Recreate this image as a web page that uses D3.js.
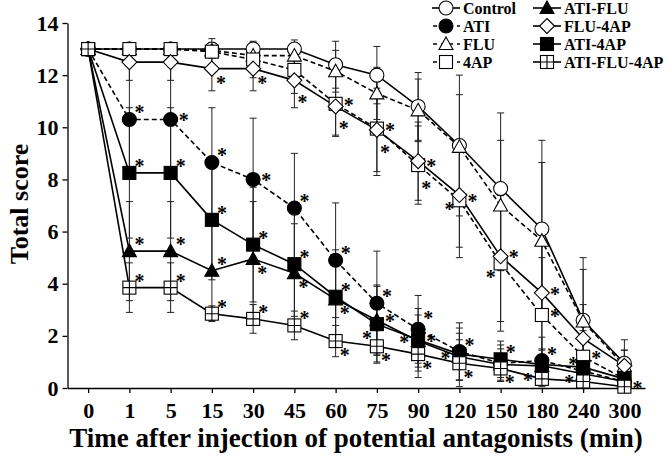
<!DOCTYPE html>
<html><head><meta charset="utf-8">
<script src="https://cdn.jsdelivr.net/npm/d3@7"></script>
<style>body{margin:0;background:#fff}svg{display:block}text{font-family:"Liberation Serif","Times New Roman",serif;font-weight:bold}</style>
</head><body><svg id="c" width="668" height="458"></svg>
<script>
const categories = ["0","1","5","15","30","45","60","75","90","120","150","180","240","300"];
const yTicks = [0,2,4,6,8,10,12,14];
const seriesNames = ["Control","ATI","FLU","4AP","ATI-FLU","FLU-4AP","ATI-4AP","ATI-FLU-4AP"];
const control    = [13,13,13,13,13,13,12.4,12.0,10.8,9.3,7.65,6.1,2.6,0.95];
const controlSD  = [0,0,0,0,0,0,0.9,1.1,1.3,2.7,2.9,3.4,2.4,0.9];
const ati        = [13,10.3,10.3,8.65,8.0,6.9,4.9,3.25,2.25,1.4,0.95,1.05,0.65,0.25];
const atiSD      = [0,2.2,2.2,2.1,2.35,2.1,2.2,2.0,1.3,1.1,0.7,0.9,0.6,0.3];
const flu        = [13,13,13,12.95,12.75,12.75,12.15,11.3,10.65,9.25,7.0,5.65,2.55,0.85];
const fluSD      = [0,0,0,0.3,0.5,0.6,0.8,1.0,1.2,2.0,2.5,3.0,2.0,0.6];
const ap4        = [13,13,13,12.9,12.6,12.2,10.9,9.95,8.55,7.2,4.78,2.8,1.2,0.35];
const ap4SD      = [0,0,0,0.5,0.7,0.9,1.2,1.8,1.5,2.2,2.6,2.2,1.0,0.4];
const atiFlu     = [13,5.25,5.25,4.5,4.95,4.4,3.4,2.6,1.8,1.2,0.9,0.85,0.55,0.25];
const atiFluSD   = [0,1.9,1.9,1.9,2.2,1.9,1.6,1.3,1.0,0.9,0.6,0.6,0.4,0.2];
const flu4ap     = [13,12.5,12.5,12.25,12.25,11.8,10.8,9.9,8.7,7.4,5.05,3.65,1.9,0.85];
const flu4apSD   = [0,0.7,0.7,0.85,0.85,1.05,1.15,1.6,1.5,2.0,2.5,2.4,1.3,0.6];
const ati4ap     = [13,8.25,8.25,6.45,5.5,4.75,3.5,2.45,1.85,1.3,1.1,0.9,0.8,0.35];
const ati4apSD   = [0,2.5,2.5,2.3,2.2,2.0,1.8,1.5,1.2,1.0,0.7,0.6,0.5,0.3];
const atiFlu4ap  = [13,3.85,3.85,2.85,2.65,2.4,1.8,1.6,1.3,0.95,0.75,0.35,0.25,0.05];
const atiFlu4apSD= [0,0.95,0.95,0.3,0.55,0.55,0.6,0.6,0.9,0.9,0.5,0.3,0.2,0.05];
// significance stars: [series, category, placement]
const stars = [
 ["ATI","1","ur"],["ATI","5","r"],["ATI","15","ur"],["ATI","30","r"],["ATI","45","ur"],["ATI","60","ur"],["ATI","75","ur"],["ATI","90","ur2"],["ATI","120","ur"],["ATI","180","ur"],["ATI","240","ul"],
 ["ATI-4AP","1","ur"],["ATI-4AP","5","ur"],["ATI-4AP","15","ur"],["ATI-4AP","30","ur"],["ATI-4AP","45","ur"],["ATI-4AP","60","ur"],["ATI-4AP","75","ll"],["ATI-4AP","90","r"],["ATI-4AP","150","ur"],
 ["ATI-FLU","1","ur"],["ATI-FLU","5","ur"],["ATI-FLU","15","ur"],["ATI-FLU","30","lr"],["ATI-FLU","45","lr"],["ATI-FLU","60","lr"],["ATI-FLU","75","r"],["ATI-FLU","90","l"],["ATI-FLU","120","l"],
 ["ATI-FLU-4AP","1","ur"],["ATI-FLU-4AP","5","ur"],["ATI-FLU-4AP","15","ur"],["ATI-FLU-4AP","30","ur"],["ATI-FLU-4AP","45","ur"],["ATI-FLU-4AP","60","lr"],["ATI-FLU-4AP","75","lr"],["ATI-FLU-4AP","90","lr"],["ATI-FLU-4AP","120","lr"],["ATI-FLU-4AP","150","lr"],["ATI-FLU-4AP","180","l"],["ATI-FLU-4AP","240","l"],["ATI-FLU-4AP","300","r"],
 ["FLU-4AP","15","lr"],["FLU-4AP","30","lr"],["FLU-4AP","45","lr2"],["FLU-4AP","60","lr2"],["FLU-4AP","75","lr2"],["FLU-4AP","90","lr3"],["FLU-4AP","120","ll"],["FLU-4AP","150","r"],["FLU-4AP","180","r"],
 ["4AP","60","r"],["4AP","75","r"],["4AP","90","r"],["4AP","120","r"],["4AP","150","ll"],["4AP","180","r"],["4AP","240","r"]
];

const values = {"Control":control,"ATI":ati,"FLU":flu,"4AP":ap4,"ATI-FLU":atiFlu,"FLU-4AP":flu4ap,"ATI-4AP":ati4ap,"ATI-FLU-4AP":atiFlu4ap};
const sds = {"Control":controlSD,"ATI":atiSD,"FLU":fluSD,"4AP":ap4SD,"ATI-FLU":atiFluSD,"FLU-4AP":flu4apSD,"ATI-4AP":ati4apSD,"ATI-FLU-4AP":atiFlu4apSD};
const style = {
 "Control":{m:"circle",fill:"#fff",dash:null},
 "ATI":{m:"circle",fill:"#000",dash:"5,3"},
 "FLU":{m:"triangle",fill:"#fff",dash:"5,3"},
 "4AP":{m:"square",fill:"#fff",dash:"5,3"},
 "ATI-FLU":{m:"triangle",fill:"#000",dash:null},
 "FLU-4AP":{m:"diamond",fill:"#fff",dash:null},
 "ATI-4AP":{m:"square",fill:"#000",dash:null},
 "ATI-FLU-4AP":{m:"cross",fill:"#fff",dash:null}
};

const svg = d3.select("#c");
const x = d3.scalePoint().domain(categories).range([67.5,645]).padding(0.5);
const y = d3.scaleLinear().domain([0,14]).range([388,23]);

function drawMarker(g, type, fill, cx, cy){
  const s = g.append("g").attr("transform",`translate(${cx},${cy})`);
  const st = {"stroke":"#000","stroke-width":1.1,"fill":fill};
  let el;
  if(type==="circle") el = s.append("circle").attr("r",7);
  else if(type==="triangle") el = s.append("path").attr("d","M0,-7L7,5.5L-7,5.5Z");
  else if(type==="square"||type==="cross") el = s.append("rect").attr("x",-6.5).attr("y",-6.5).attr("width",13).attr("height",13);
  else if(type==="diamond") el = s.append("path").attr("d","M0,-7.5L7.5,0L0,7.5L-7.5,0Z");
  for(const k in st) el.attr(k,st[k]);
  if(type==="cross"){
    s.append("path").attr("d","M0,-6.5V6.5M-6.5,0H6.5").attr("stroke","#000").attr("stroke-width",1.1);
  }
}

// axes
const gy = svg.append("g").attr("transform","translate(67.5,0)")
  .call(d3.axisLeft(y).tickValues(yTicks).tickSize(5).tickSizeOuter(0).tickPadding(4));
const gx = svg.append("g").attr("transform","translate(0,388)")
  .call(d3.axisBottom(x).tickSize(5).tickSizeOuter(0).tickPadding(9));
[gy,gx].forEach(g=>{g.selectAll("path,line").attr("stroke","#000").attr("stroke-width",1.3);
  g.selectAll("text").attr("font-size",22).attr("fill","#000").attr("font-family","Liberation Serif").attr("font-weight","bold");});

svg.append("text").attr("transform","translate(28,204) rotate(-90)").attr("text-anchor","middle")
  .attr("font-size",26).text("Total score");
svg.append("text").attr("x",356).attr("y",447).attr("text-anchor","middle")
  .attr("font-size",27).text("Time after injection of potential antagonists (min)");

// lines
const line = d3.line().x((d,i)=>x(categories[i])).y(d=>y(d));
seriesNames.forEach(n=>{
  svg.append("path").datum(values[n]).attr("d",line).attr("fill","none")
    .attr("stroke","#000").attr("stroke-width",1.6).attr("stroke-dasharray",style[n].dash);
});
// error bars
seriesNames.forEach(n=>{
  values[n].forEach((v,i)=>{
    const sd = sds[n][i]; if(!sd) return;
    const cx = x(categories[i]);
    const y1 = y(v+sd), y2 = y(v-sd);
    svg.append("line").attr("x1",cx).attr("x2",cx).attr("y1",y1).attr("y2",y2).attr("stroke","#222").attr("stroke-width",1);
    [y1,y2].forEach(yy=>svg.append("line").attr("x1",cx-3.5).attr("x2",cx+3.5).attr("y1",yy).attr("y2",yy).attr("stroke","#222").attr("stroke-width",1));
  });
});
// markers
const mg = svg.append("g");
seriesNames.forEach(n=>{
  values[n].forEach((v,i)=>drawMarker(mg,style[n].m,style[n].fill,x(categories[i]),y(v)));
});
// stars
const off = {ur:[10,-9],ur2:[10,-13],r:[13,-1],lr:[9,12],lr2:[8,20],lr3:[8,25],l:[-14,-1],ll:[-10,12],ul:[-10,-9]};
stars.forEach(([n,c,p])=>{
  const i = categories.indexOf(c);
  const cx = x(c)+off[p][0], cy = y(values[n][i])+off[p][1];
  svg.append("text").attr("x",cx).attr("y",cy+9).attr("text-anchor","middle").attr("font-size",20).text("*");
});
// legend
const leg = [[0,0],[0,1],[0,2],[0,3],[1,0],[1,1],[1,2],[1,3]];
const colX = [446,547], rowY = [8,26,44,62];
seriesNames.forEach((n,k)=>{
  const [c,r]=leg[k]; const cx=colX[c], cy=rowY[r];
  svg.append("line").attr("x1",cx-14).attr("x2",cx+14).attr("y1",cy).attr("y2",cy).attr("stroke","#000")
   .attr("stroke-width",1.6).attr("stroke-dasharray",style[n].dash?"4,4":null).attr("stroke-dashoffset",style[n].dash?-1:0);
  drawMarker(svg,style[n].m,style[n].fill,cx,cy);
  svg.append("text").attr("x",cx+17).attr("y",cy+5.5).attr("font-size",16).text(n);
});
</script></body></html>
